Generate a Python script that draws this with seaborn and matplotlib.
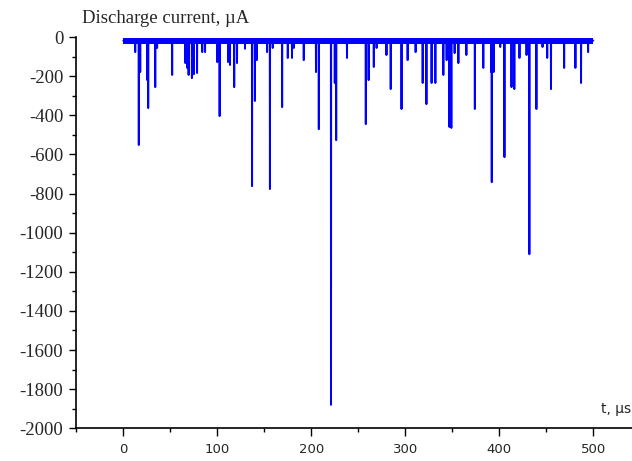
import matplotlib
matplotlib.use("Agg")
import matplotlib.pyplot as plt
import pandas as pd
import seaborn as sns
from matplotlib.ticker import MultipleLocator

# discharge pulses: time (us) and peak current (uA)
spike_t = [12.7, 16.5, 18, 25.5, 26.5, 34, 36, 52, 66, 68, 69.5, 73, 75, 78.5,
           84, 87, 100, 102.5, 111.5, 113.5, 118, 121, 129.5, 137, 140, 142,
           153, 156, 159, 169, 175, 179.5, 181.5, 192, 205, 208, 221, 225,
           226.5, 238, 258, 261, 266.5, 269.5, 280, 284.5, 296, 302.5, 311,
           318.5, 322.5, 328, 332, 340.5, 344, 347, 349, 352.5, 356.5, 365,
           374, 383, 391.5, 392, 394, 401, 405.5, 413, 416, 421.5, 429, 432,
           439.5, 446, 451, 455, 469, 481, 487, 494.5]
spike_v = [-77, -552, -179, -220, -363, -256, -56, -194, -133, -158, -194, -210,
           -190, -184, -77, -77, -128, -404, -128, -143, -256, -133, -60, -762,
           -327, -118, -77, -777, -56, -358, -107, -107, -56, -118, -179, -471,
           -1880, -235, -527, -107, -445, -220, -153, -56, -92, -266, -368,
           -118, -77, -235, -343, -235, -235, -194, -118, -460, -465, -82,
           -133, -92, -368, -158, -179, -742, -179, -51, -614, -256, -266,
           -107, -92, -1110, -368, -51, -107, -266, -158, -158, -235, -77]

# background noise band of the record
band_t = [0, 500]
band_level = -18

x_ticks = [0, 100, 200, 300, 400, 500]
y_ticks = list(range(-2000, 1, 200))

# build the trace: baseline -> pulse -> baseline
rows = [(band_t[0], band_level)]
for t, v in zip(spike_t, spike_v):
    rows += [(t - 0.15, band_level), (t, v), (t + 0.15, band_level)]
rows.append((band_t[1], band_level))
trace = pd.DataFrame(rows, columns=["t", "current"])
band = pd.DataFrame({"t": band_t, "current": [band_level] * len(band_t)})

sns.set_theme(style="ticks")
plt.rcParams["font.family"] = ["DejaVu Sans"]
plt.rcParams["axes.unicode_minus"] = False

fig = plt.figure(figsize=(6.32, 4.61), dpi=100)
ax = fig.add_axes([0.1207, 0.0709, 0.8924, 0.8488])

sns.lineplot(data=band, x="t", y="current", ax=ax, color="#0000ff",
             linewidth=4.3, solid_capstyle="butt", estimator=None)
sns.lineplot(data=trace, x="t", y="current", ax=ax, color="#0000ff",
             linewidth=1.4, sort=False, estimator=None)

ax.set_xlim(-50, 550)
ax.set_ylim(-2000, 0)
ax.set_xticks(x_ticks)
ax.set_yticks(y_ticks)
ax.xaxis.set_minor_locator(MultipleLocator(50))
ax.yaxis.set_minor_locator(MultipleLocator(100))
ax.set_xlabel("")
ax.set_ylabel("")

for side in ["top", "right"]:
    ax.spines[side].set_visible(False)
for side in ["left", "bottom"]:
    ax.spines[side].set_linewidth(1.2)
    ax.spines[side].set_color("black")

ax.tick_params(which="major", length=5.4, width=1.0, color="black", direction="out")
ax.tick_params(which="minor", length=3.1, width=1.0, color="black", direction="out")
ax.tick_params(axis="x", labelsize=9.5, pad=5)
ax.tick_params(axis="y", pad=4)
for lbl in ax.get_yticklabels():
    lbl.set_fontfamily("Liberation Serif")
    lbl.set_fontsize(13.5)

fig.text(82 / 632, 1 - 23 / 461, "Discharge current, µA",
         family="Liberation Serif", fontsize=13.5, va="baseline", ha="left")
ax.text(0.931, 0.038, "t, µs", transform=ax.transAxes, fontsize=10,
        va="baseline", ha="left")

fig.savefig("out.png", dpi=100)
